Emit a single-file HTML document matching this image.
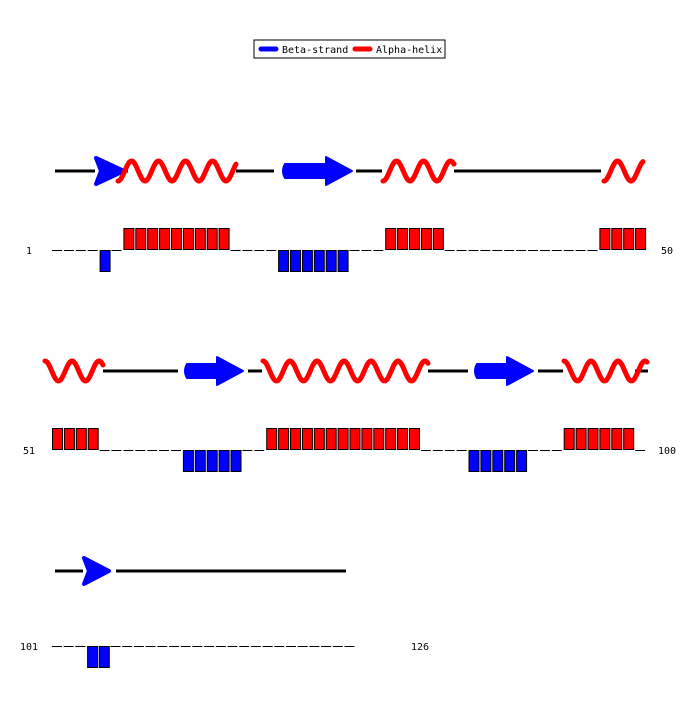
<!DOCTYPE html>
<html><head><meta charset="utf-8"><style>
body{margin:0;background:#fff;width:700px;height:700px;overflow:hidden}
svg text{font-family:"DejaVu Sans Mono","Liberation Mono",monospace;font-size:10px}
</style></head><body>
<svg id="s" width="700" height="700" xmlns="http://www.w3.org/2000/svg">
<rect x="254" y="40" width="191" height="18" fill="#fff" stroke="#000" stroke-width="1"/>
<line x1="261" y1="49" x2="276" y2="49" stroke="#00f" stroke-width="5" stroke-linecap="round"/>
<text x="282" y="53">Beta-strand</text>
<line x1="355" y1="49" x2="370" y2="49" stroke="#f00" stroke-width="5" stroke-linecap="round"/>
<text x="376" y="53">Alpha-helix</text>
<text x="26" y="254">1</text><text x="661" y="254">50</text>
<text x="23" y="454">51</text><text x="658" y="454">100</text>
<text x="20" y="650">101</text><text x="411" y="650">126</text>
</svg>
<script>
var s=document.getElementById('s'),NS='http://www.w3.org/2000/svg';
function el(t,a){var e=document.createElementNS(NS,t);for(var k in a)e.setAttribute(k,a[k]);s.appendChild(e);return e;}
function line(x1,x2,y){el('line',{x1:x1,x2:x2,y1:y,y2:y,stroke:'#000','stroke-width':3});}
function helix(x0,x1,cy,ph){var d='',P=27,A=10;for(var x=x0;x<=x1;x+=1){var y=cy-A*Math.sin(2*Math.PI*(x-x0)/P+ph);d+=(x==x0?'M':'L')+x+' '+y.toFixed(1);}
el('path',{d:d,fill:'none',stroke:'#f00','stroke-width':5,'stroke-linecap':'round'});}
function arrow(x0,x1,cy){var h=x1-26;el('path',{d:'M'+(x0+4)+' '+(cy-7)+'L'+h+' '+(cy-7)+'L'+h+' '+(cy-14)+'L'+x1+' '+cy+'L'+h+' '+(cy+14)+'L'+h+' '+(cy+7)+'L'+(x0+4)+' '+(cy+7)+'Q'+x0+' '+cy+' '+(x0+4)+' '+(cy-7)+'Z',fill:'#00f',stroke:'#00f','stroke-width':2,'stroke-linejoin':'round'});}
function notch(x0,x1,cy){el('path',{d:'M'+x0+' '+(cy-13)+'L'+x1+' '+cy+'L'+x0+' '+(cy+13)+'L'+(x0+5)+' '+cy+'Z',fill:'#00f',stroke:'#00f','stroke-width':4,'stroke-linejoin':'round'});}
var y=171;line(55,95,y);line(118,128,y);line(236,274,y);line(356,382,y);line(454,601,y);
notch(96,124,y);helix(118,236,y,-Math.PI/2);arrow(281,352,y);helix(383,454,y,-Math.PI/2);helix(604,643,y,-Math.PI/2);
y=371;line(103,178,y);line(248,262,y);line(428,468,y);line(538,563,y);line(635,648,y);
helix(45,103,y,Math.PI/2);arrow(183,243,y);helix(263,428,y,Math.PI/2);arrow(473,533,y);helix(564,647,y,Math.PI/2);
y=571;line(55,83,y);line(116,346,y);notch(84,109,y);
function row(y0,n,spec,p){for(var i=0;i<n;i++){var x=52+i*p,c=spec[i];
 if(c=='H')el('rect',{x:x+0.5,y:y0-21.5,width:10,height:21,fill:'#f00',stroke:'#000','stroke-width':1});
 else if(c=='E')el('rect',{x:x+0.5,y:y0+0.5,width:10,height:21,fill:'#00f',stroke:'#000','stroke-width':1});
 else el('line',{x1:x,x2:x+10,y1:y0+0.5,y2:y0+0.5,stroke:'#000','stroke-width':1});}}
row(250,50,'----E-HHHHHHHHH----EEEEEE---HHHHH-------------HHHH',11.9);
row(450,50,'HHHH-------EEEEE--HHHHHHHHHHHHH----EEEEE---HHHHHH-',11.9);
row(646,26,'---EE---------------------',11.7);
</script>
</body></html>
